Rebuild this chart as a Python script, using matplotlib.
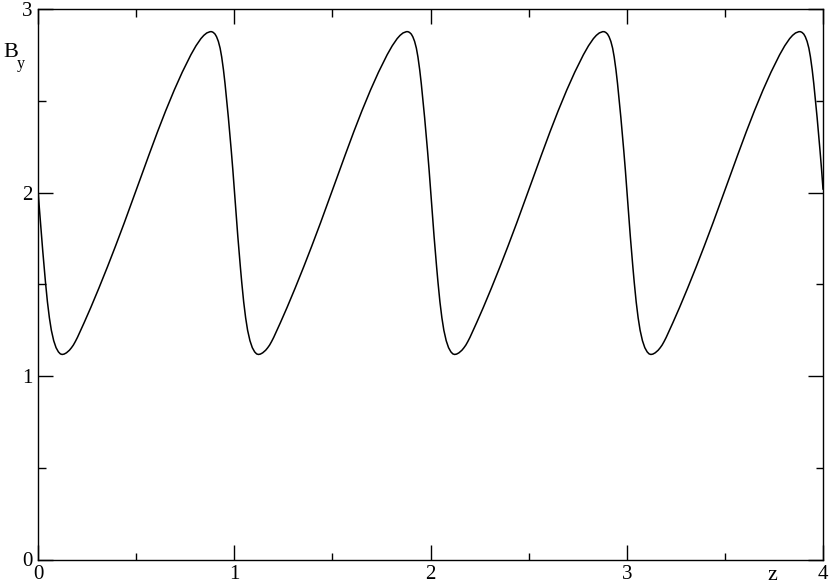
import numpy as np
import matplotlib
matplotlib.use("Agg")
import matplotlib.pyplot as plt

# One period of the wave (phase within a period, B_y)
period_phase = [0.000, 0.006, 0.012, 0.018, 0.024, 0.031, 0.038, 0.048, 0.058, 0.068,
                0.080, 0.092, 0.104, 0.114, 0.123, 0.133, 0.145, 0.160, 0.170, 0.180,
                0.190, 0.201, 0.235, 0.269, 0.310, 0.354, 0.395, 0.439, 0.480, 0.524,
                0.565, 0.609, 0.650, 0.694, 0.735, 0.779, 0.805, 0.830, 0.845, 0.860,
                0.870, 0.877, 0.885, 0.893, 0.902, 0.910, 0.919, 0.928, 0.936, 0.945,
                0.953, 0.962, 0.970, 0.978, 0.985, 0.993, 1.000]
period_By = [2.020, 1.928, 1.845, 1.764, 1.685, 1.597, 1.513, 1.405, 1.318, 1.250,
             1.193, 1.155, 1.132, 1.121, 1.118, 1.120, 1.127, 1.141, 1.154, 1.169,
             1.188, 1.211, 1.291, 1.374, 1.479, 1.596, 1.709, 1.834, 1.954, 2.084,
             2.205, 2.332, 2.445, 2.559, 2.657, 2.752, 2.801, 2.840, 2.858, 2.871,
             2.875, 2.878, 2.878, 2.874, 2.865, 2.850, 2.825, 2.788, 2.740, 2.670,
             2.595, 2.500, 2.410, 2.315, 2.227, 2.122, 2.020]
n_periods = 4

x_ticks = [0, 1, 2, 3, 4]
y_ticks = [0, 1, 2, 3]

z_vals = []
by_vals = []
for k in range(n_periods):
    start = 0 if k == 0 else 1
    z_vals.extend([p + k for p in period_phase[start:]])
    by_vals.extend(period_By[start:])

plt.rcParams['font.family'] = ['Liberation Serif', 'DejaVu Serif']

fig = plt.figure(figsize=(8.30, 5.85), dpi=100)
W, H = 830, 585
ax = fig.add_axes([38 / W, 25.5 / H, 785 / W, 550.2 / H])

ax.plot(z_vals, by_vals, color='black', linewidth=1.1)

ax.set_xlim(0, 4)
ax.set_ylim(0, 3)
ax.set_xticks(x_ticks)
ax.set_yticks(y_ticks)
ax.set_xticks([0.5, 1.5, 2.5, 3.5], minor=True)
ax.set_yticks([0.5, 1.5, 2.5], minor=True)
ax.set_xticklabels([str(t) for t in x_ticks])
ax.set_yticklabels([str(t) for t in y_ticks])

ax.tick_params(which='both', direction='in', top=True, right=True, width=1.0,
               labelsize=15)
ax.tick_params(which='major', length=10.8)
ax.tick_params(which='minor', length=5.4)
ax.tick_params(axis='x', pad=4)
ax.tick_params(axis='y', pad=4)
for sp in ax.spines.values():
    sp.set_linewidth(1.0)

fig.text(3 / W, 1 - 57 / H, 'B', fontsize=16, va='baseline', ha='left')
fig.text(17 / W, 1 - 68 / H, 'y', fontsize=11.5, va='baseline', ha='left')
fig.text(767 / W, 1 - 580 / H, 'z', fontsize=16, va='baseline', ha='left')

fig.savefig('out.png', dpi=100)
